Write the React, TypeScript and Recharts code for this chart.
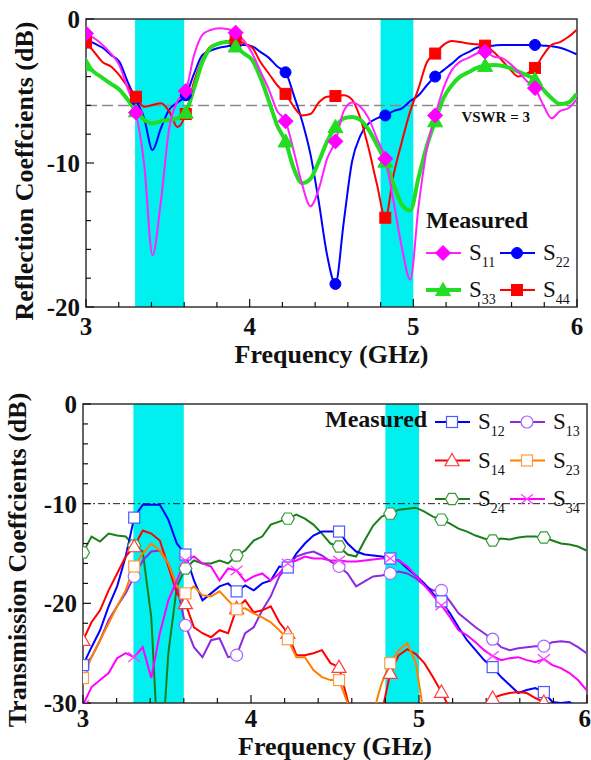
import React from 'react';
import {
  ComposedChart,
  Line,
  XAxis,
  YAxis,
  ReferenceArea,
  ReferenceLine,
  Label,
  Legend,
} from 'recharts';

const SERIF = "'Liberation Serif', 'Times New Roman', Times, serif";
const INK = '#111';

// sweep grid: 60 samples 0.0508 GHz apart, a symbol on every 6th sample
const FREQ = Array.from({ length: 60 }, (_, i) => Math.round((3 + i * 0.0508) * 10000) / 10000);
const MARK_EVERY = 6;

const PASS_BANDS: [number, number][] = [
  [3.3, 3.6],
  [4.8, 5.0],
];

const X_TICKS = [3, 4, 5, 6];
const X_MINOR = [3.2, 3.4, 3.6, 3.8, 4.2, 4.4, 4.6, 4.8, 5.2, 5.4, 5.6, 5.8];

const REFL_TICKS = [-20, -10, 0];
const REFL_MINOR = [-18, -16, -14, -12, -8, -6, -4, -2];
const TRANS_TICKS = [-30, -20, -10, 0];
const TRANS_MINOR = [-28, -26, -24, -22, -18, -16, -14, -12, -8, -6, -4, -2];

// reflection coefficients (dB)
const S11 = [
  -1.0, -1.34, -1.8, -2.4, -3.2, -4.8, -6.5, -10.1, -16.4, -12.7,
  -7.6, -5.7, -5.0, -2.5, -1.1, -0.76, -0.65, -0.7, -0.95, -1.5,
  -2.4, -3.66, -4.9, -6.4, -7.1, -9.2, -11.5, -13.0, -11.8, -9.7,
  -8.5, -6.4, -5.8, -6.1, -6.9, -8.3, -9.7, -12.7, -15.9, -18.1,
  -13.0, -9.0, -6.7, -4.8, -3.55, -2.96, -2.7, -2.4, -2.27, -2.6,
  -2.7, -3.1, -3.66, -4.3, -4.8, -5.97, -6.9, -6.4, -6.2, -5.6,
];
const S22 = [
  -1.4, -1.7, -2.0, -2.5, -2.96, -4.35, -5.6, -6.9, -9.1, -7.6,
  -6.3, -5.8, -5.3, -3.8, -2.5, -2.2, -2.0, -1.9, -1.8, -1.8,
  -1.9, -2.3, -2.7, -3.3, -3.7, -5.3, -7.1, -9.4, -12.7, -16.4,
  -18.4, -14.1, -9.9, -8.1, -7.25, -6.9, -6.7, -6.4, -6.2, -5.7,
  -5.3, -4.6, -4.0, -3.55, -3.1, -2.6, -2.3, -2.0, -1.9, -1.85,
  -1.8, -1.8, -1.8, -1.8, -1.8, -1.85, -1.9, -2.0, -2.2, -2.45,
];
const S33 = [
  -3.2, -3.7, -4.1, -4.5, -4.9, -5.6, -6.4, -7.0, -7.25, -7.1,
  -7.0, -6.9, -6.5, -4.8, -3.0, -2.0, -1.7, -1.6, -1.9, -2.4,
  -2.85, -4.1, -5.7, -7.4, -8.5, -10.4, -11.4, -11.1, -9.9, -8.5,
  -7.5, -6.9, -6.8, -7.0, -7.7, -8.75, -9.9, -11.5, -12.9, -13.3,
  -11.0, -8.8, -7.1, -5.5, -4.6, -4.0, -3.7, -3.4, -3.25, -3.2,
  -3.25, -3.4, -3.66, -3.9, -4.2, -4.9, -5.5, -5.9, -5.8, -5.2,
];
const S44 = [
  -1.6, -2.3, -3.0, -3.3, -3.9, -4.7, -5.4, -6.1, -5.97, -5.85,
  -6.4, -7.5, -6.6, -4.35, -2.8, -1.9, -1.7, -1.53, -1.4, -1.7,
  -2.0, -3.0, -3.8, -4.6, -5.2, -6.1, -6.7, -6.6, -5.8, -5.4,
  -5.35, -5.3, -5.6, -6.9, -9.0, -11.5, -13.8, -10.8, -8.5, -6.4,
  -4.8, -3.0, -2.4, -1.8, -1.53, -1.6, -1.7, -1.76, -1.85, -2.27,
  -2.85, -3.5, -4.0, -3.8, -3.4, -2.5, -1.8, -1.6, -1.25, -0.76,
];

// transmission coefficients (dB); values below -30 run off the frame
const S12 = [
  -26.2, -24.4, -22.7, -20.3, -18.3, -15.3, -11.4, -10.1, -10.1, -10.1,
  -11.6, -14.0, -15.1, -17.7, -19.7, -19.0, -18.3, -18.0, -18.8, -18.2,
  -18.7, -18.0, -17.7, -16.3, -16.4, -15.0, -14.0, -13.2, -12.8, -12.8,
  -12.8, -14.0, -14.8, -15.1, -15.2, -15.3, -15.5, -15.7, -16.5, -17.2,
  -18.0, -19.0, -19.8, -21.0, -22.4, -23.7, -24.7, -25.7, -26.4, -27.4,
  -28.2, -29.0, -28.7, -28.5, -28.9, -29.9, -30.0, -29.9, -30.5, -31.0,
];
const S13 = [
  -26.4, -25.4, -23.7, -21.7, -20.3, -19.0, -17.3, -15.7, -14.8, -14.7,
  -16.0, -18.3, -22.2, -24.4, -25.4, -23.7, -23.5, -25.4, -25.2, -23.0,
  -22.4, -20.7, -19.3, -17.3, -16.2, -15.3, -15.0, -14.8, -15.2, -15.8,
  -16.3, -17.0, -18.3, -17.8, -17.3, -17.2, -17.0, -16.8, -17.0, -17.5,
  -18.2, -18.7, -18.7, -19.8, -21.0, -21.7, -22.4, -23.0, -23.6, -24.4,
  -24.7, -24.5, -24.4, -24.3, -24.3, -23.9, -23.8, -23.9, -24.4, -25.0,
];
const S14 = [
  -23.7, -21.9, -20.7, -18.7, -17.0, -15.3, -14.3, -12.7, -13.0, -13.7,
  -16.3, -19.0, -20.0, -22.4, -23.0, -23.4, -22.7, -23.0, -20.5, -19.7,
  -20.9, -20.7, -20.3, -21.9, -23.0, -25.2, -25.2, -25.0, -24.7, -26.0,
  -26.4, -29.7, -33.0, -35.0, -35.0, -31.0, -27.0, -25.2, -24.6, -25.1,
  -26.0, -27.4, -28.9, -30.6, -33.0, -33.0, -32.0, -30.2, -29.5, -29.2,
  -29.0, -28.9, -29.0, -29.5, -29.9, -31.0, -33.0, -33.0, -33.0, -33.0,
];
const S23 = [
  -27.5, -25.4, -23.7, -22.0, -20.3, -18.7, -16.3, -15.0, -14.0, -14.7,
  -16.0, -18.3, -19.0, -18.3, -19.2, -19.3, -18.8, -19.7, -20.6, -20.5,
  -21.0, -21.4, -21.9, -22.7, -23.6, -25.4, -25.4, -26.7, -27.4, -27.7,
  -27.7, -30.0, -34.0, -36.0, -31.0, -28.0, -26.0, -24.7, -24.0, -26.0,
  -31.5, -35.0, -36.0, -36.0, -36.0, -36.0, -36.0, -36.0, -36.0, -36.0,
  -36.0, -36.0, -36.0, -36.0, -36.0, -36.0, -36.0, -36.0, -36.0, -36.0,
];
const S24 = [
  -14.9, -13.3, -13.8, -13.0, -13.2, -13.3, -14.2, -14.8, -21.4, -38.0,
  -25.0, -18.3, -16.5, -15.7, -16.0, -16.0, -15.7, -16.0, -15.2, -14.7,
  -13.7, -13.3, -12.1, -11.8, -11.5, -11.1, -11.5, -12.1, -13.0, -14.0,
  -14.3, -15.1, -15.3, -13.7, -12.2, -11.3, -11.0, -10.6, -10.5, -10.4,
  -10.8, -11.3, -11.6, -12.0, -12.5, -12.8, -13.2, -13.5, -13.7, -13.5,
  -13.6, -13.4, -13.3, -13.3, -13.4, -13.7, -14.0, -14.1, -14.3, -14.7,
];
const S34 = [
  -30.2, -28.4, -27.7, -27.0, -25.5, -25.0, -25.4, -24.4, -27.5, -23.0,
  -19.7, -17.7, -15.7, -15.3, -16.0, -16.3, -17.7, -16.5, -16.7, -17.8,
  -17.3, -17.0, -17.7, -17.0, -16.0, -15.7, -15.3, -15.5, -15.5, -15.7,
  -15.7, -15.8, -15.8, -15.7, -15.6, -15.5, -15.5, -15.7, -16.3, -17.2,
  -18.2, -19.2, -20.2, -21.4, -22.7, -23.2, -23.9, -24.7, -25.3, -25.7,
  -25.5, -25.4, -25.7, -25.9, -25.6, -26.2, -26.5, -27.0, -27.7, -28.7,
];

type MarkerKind = 'diamond' | 'circle' | 'triangle' | 'square' | 'hexagon' | 'cross';

type Series = {
  key: string;
  sub: string;
  values: number[];
  color: string;
  markerColor: string;
  marker: MarkerKind;
  size: number;
  width: number;
  filled: boolean;
};

const REFLECTION: Series[] = [
  { key: 's11', sub: '11', values: S11, color: '#ff22ff', markerColor: '#ff00ff', marker: 'diamond', size: 7.5, width: 2, filled: true },
  { key: 's22', sub: '22', values: S22, color: '#0000ff', markerColor: '#0000ff', marker: 'circle', size: 5.5, width: 2, filled: true },
  { key: 's33', sub: '33', values: S33, color: '#22dd22', markerColor: '#22dd22', marker: 'triangle', size: 7.5, width: 4, filled: true },
  { key: 's44', sub: '44', values: S44, color: '#ff0000', markerColor: '#ff0000', marker: 'square', size: 5.5, width: 2, filled: true },
];
const REFLECTION_ORDER = ['s22', 's44', 's33', 's11'];

const TRANSMISSION: Series[] = [
  { key: 's12', sub: '12', values: S12, color: '#0000ff', markerColor: '#4a5cff', marker: 'square', size: 5.5, width: 2, filled: false },
  { key: 's13', sub: '13', values: S13, color: '#8a2be2', markerColor: '#a966ff', marker: 'circle', size: 6, width: 2, filled: false },
  { key: 's14', sub: '14', values: S14, color: '#ff0000', markerColor: '#ff3a3a', marker: 'triangle', size: 7, width: 2, filled: false },
  { key: 's23', sub: '23', values: S23, color: '#ff8000', markerColor: '#ff9a40', marker: 'square', size: 5.5, width: 2, filled: false },
  { key: 's24', sub: '24', values: S24, color: '#1a7f1a', markerColor: '#3a9a3a', marker: 'hexagon', size: 6.5, width: 2, filled: false },
  { key: 's34', sub: '34', values: S34, color: '#ff00ff', markerColor: '#ff40ff', marker: 'cross', size: 6, width: 2, filled: false },
];
const TRANSMISSION_ORDER = ['s24', 's13', 's12', 's14', 's23', 's34'];

const reflRows = FREQ.map((f, i) => {
  const row: Record<string, number> = { f };
  REFLECTION.forEach((s) => (row[s.key] = s.values[i]));
  return row;
});
const transRows = FREQ.map((f, i) => {
  const row: Record<string, number> = { f };
  TRANSMISSION.forEach((s) => (row[s.key] = s.values[i]));
  return row;
});

function Marker({ kind, cx, cy, color, filled, size }: {
  kind: MarkerKind; cx: number; cy: number; color: string; filled: boolean; size: number;
}) {
  const fill = filled ? color : '#fff';
  const sw = filled ? 1 : 1.2;
  const s = size;
  switch (kind) {
    case 'diamond':
      return <polygon points={`${cx},${cy - s} ${cx + s},${cy} ${cx},${cy + s} ${cx - s},${cy}`} fill={fill} stroke={color} strokeWidth={sw} />;
    case 'circle':
      return <circle cx={cx} cy={cy} r={s} fill={fill} stroke={color} strokeWidth={sw} />;
    case 'triangle':
      return <polygon points={`${cx},${cy - s} ${cx + s},${cy + s * 0.75} ${cx - s},${cy + s * 0.75}`} fill={fill} stroke={color} strokeWidth={sw} />;
    case 'square':
      return <rect x={cx - s} y={cy - s} width={2 * s} height={2 * s} fill={fill} stroke={color} strokeWidth={sw} />;
    case 'hexagon': {
      const pts = [0, 1, 2, 3, 4, 5]
        .map((k) => {
          const a = (k * Math.PI) / 3;
          return `${cx + s * Math.cos(a)},${cy + s * Math.sin(a)}`;
        })
        .join(' ');
      return <polygon points={pts} fill={fill} stroke={color} strokeWidth={sw} />;
    }
    default:
      return (
        <g stroke={color} strokeWidth={1.3}>
          <line x1={cx - s} y1={cy - s * 0.8} x2={cx + s} y2={cy + s * 0.8} />
          <line x1={cx - s} y1={cy + s * 0.8} x2={cx + s} y2={cy - s * 0.8} />
        </g>
      );
  }
}

const symbolDot = (s: Series) => (props: any) => {
  const { cx, cy, index } = props;
  const key = `${s.key}-dot-${index}`;
  if (index % MARK_EVERY !== 0 || cx == null || cy == null) return <g key={key} />;
  return (
    <g key={key}>
      <Marker kind={s.marker} cx={cx} cy={cy} color={s.markerColor} filled={s.filled} size={s.size} />
    </g>
  );
};

// inward tick marks along the bottom and left edges of the frame
function frameTicks(
  id: string,
  xDomain: [number, number],
  yDomain: [number, number],
  yMajor: number[],
  yMinor: number[],
  pxPerX: number,
  pxPerY: number,
) {
  const [x0] = xDomain;
  const [y0] = yDomain;
  const out: React.ReactElement[] = [];
  const tick = { stroke: INK, strokeWidth: 1.2 };
  X_TICKS.forEach((x) =>
    out.push(<ReferenceLine key={`${id}-xM-${x}`} segment={[{ x, y: y0 }, { x, y: y0 + 8 / pxPerY }]} {...tick} />),
  );
  X_MINOR.forEach((x) =>
    out.push(<ReferenceLine key={`${id}-xm-${x}`} segment={[{ x, y: y0 }, { x, y: y0 + 5 / pxPerY }]} {...tick} />),
  );
  yMajor.forEach((y) =>
    out.push(<ReferenceLine key={`${id}-yM-${y}`} segment={[{ x: x0, y }, { x: x0 + 8 / pxPerX, y }]} {...tick} />),
  );
  yMinor.forEach((y) =>
    out.push(<ReferenceLine key={`${id}-ym-${y}`} segment={[{ x: x0, y }, { x: x0 + 5 / pxPerX, y }]} {...tick} />),
  );
  return out;
}

const tickFont = { fontFamily: SERIF, fontSize: 25, fontWeight: 'bold', fill: INK };

function LegendBlock({ series, titleX, titleY, x0, colStep, rowY, rowStep }: {
  series: Series[]; titleX: number; titleY: number; x0: number; colStep: number; rowY: number; rowStep: number;
}) {
  return (
    <svg width={591} height={380} style={{ position: 'absolute', left: 0, top: 0, overflow: 'visible' }}>
      <text x={titleX} y={titleY} fontFamily={SERIF} fontSize={24} fontWeight="bold" fill={INK}>
        Measured
      </text>
      {series.map((s, k) => {
        const x = x0 + (k % 2) * colStep;
        const y = rowY + Math.floor(k / 2) * rowStep;
        return (
          <g key={s.key}>
            <line x1={x} y1={y} x2={x + 35} y2={y} stroke={s.color} strokeWidth={s.width} />
            <Marker kind={s.marker} cx={x + 17} cy={y} color={s.markerColor} filled={s.filled} size={s.size} />
            <text x={x + 43} y={y + 7} fontFamily={SERIF} fontSize={23} fill={INK}>
              S
              <tspan fontSize={14} dy={7}>
                {s.sub}
              </tspan>
            </text>
          </g>
        );
      })}
    </svg>
  );
}

function ReflectionChart() {
  const yDomain: [number, number] = [-20, 0];
  return (
    <ComposedChart width={591} height={380} data={reflRows} margin={{ top: 19, right: 14, bottom: 13, left: 0 }}>
      {PASS_BANDS.map(([a, b]) => (
        <ReferenceArea key={`band-${a}`} x1={a} x2={b} y1={-20} y2={0} fill="#00f0f0" fillOpacity={1} stroke="none" />
      ))}
      <ReferenceLine y={-6} stroke="#8a8a8a" strokeWidth={1.5} strokeDasharray="11 5">
        <Label
          content={(p: any) => {
            const vb = p.viewBox ?? { x: 86, y: 105, width: 491 };
            return (
              <text x={vb.x + vb.width - 47} y={vb.y + 17} textAnchor="end" fontFamily={SERIF} fontSize={15} fontWeight="bold" fill={INK}>
                VSWR = 3
              </text>
            );
          }}
        />
      </ReferenceLine>
      <XAxis
        dataKey="f"
        type="number"
        domain={[3, 6]}
        ticks={X_TICKS}
        allowDataOverflow
        height={60}
        tickLine={false}
        axisLine={false}
        tickSize={0}
        tickMargin={10}
        tick={tickFont}
      >
        <Label value="Frequency (GHz)" position="insideBottom" offset={4} fontFamily={SERIF} fontSize={26} fontWeight="bold" fill={INK} />
      </XAxis>
      <YAxis
        type="number"
        domain={yDomain}
        ticks={REFL_TICKS}
        allowDataOverflow
        width={86}
        tickLine={false}
        axisLine={false}
        tickSize={0}
        tickMargin={6}
        tick={tickFont}
      >
        <Label
          content={() => (
            <text x={33} y={171} transform="rotate(-90 33 171)" textAnchor="middle" fontFamily={SERIF} fontSize={26} fontWeight="bold" fill={INK}>
              Reflection Coeffcients (dB)
            </text>
          )}
        />
      </YAxis>
      {REFLECTION_ORDER.map((k) => {
        const s = REFLECTION.find((r) => r.key === k)!;
        return (
          <Line
            key={s.key}
            dataKey={s.key}
            type="monotone"
            stroke={s.color}
            strokeWidth={s.width}
            dot={symbolDot(s)}
            activeDot={false}
            isAnimationActive={false}
          />
        );
      })}
      {frameTicks('r', [3, 6], yDomain, REFL_TICKS, REFL_MINOR, 491 / 3, 288 / 20)}
      <ReferenceArea x1={3} x2={6} y1={-20} y2={0} fill="none" stroke="#333" strokeWidth={1.5} />
      <Legend
        layout="horizontal"
        verticalAlign="middle"
        align="center"
        wrapperStyle={{ left: 0, top: 0, width: 591, height: 380, pointerEvents: 'none' }}
        content={() => (
          <LegendBlock series={REFLECTION} titleX={426} titleY={228} x0={426} colStep={74} rowY={253} rowStep={37} />
        )}
      />
    </ComposedChart>
  );
}

function TransmissionChart() {
  const yDomain: [number, number] = [-30, 0];
  return (
    <ComposedChart width={591} height={380} data={transRows} margin={{ top: 24, right: 4, bottom: 2, left: 0 }}>
      {PASS_BANDS.map(([a, b]) => (
        <ReferenceArea key={`band-${a}`} x1={a} x2={b} y1={-30} y2={0} fill="#00f0f0" fillOpacity={1} stroke="none" />
      ))}
      <ReferenceLine y={-10} stroke="#222" strokeWidth={1} strokeDasharray="7 3 2 3" />
      <XAxis
        dataKey="f"
        type="number"
        domain={[3, 6]}
        ticks={X_TICKS}
        allowDataOverflow
        height={55}
        tickLine={false}
        axisLine={false}
        tickSize={0}
        tickMargin={6}
        tick={tickFont}
      >
        <Label value="Frequency (GHz)" position="insideBottom" offset={3} fontFamily={SERIF} fontSize={26} fontWeight="bold" fill={INK} />
      </XAxis>
      <YAxis
        type="number"
        domain={yDomain}
        ticks={TRANS_TICKS}
        allowDataOverflow
        width={83}
        tickLine={false}
        axisLine={false}
        tickSize={0}
        tickMargin={6}
        tick={tickFont}
      >
        <Label
          content={() => (
            <text x={26} y={180} transform="rotate(-90 26 180)" textAnchor="middle" fontFamily={SERIF} fontSize={26} fontWeight="bold" fill={INK}>
              Transmission Coeffcients (dB)
            </text>
          )}
        />
      </YAxis>
      {TRANSMISSION_ORDER.map((k) => {
        const s = TRANSMISSION.find((r) => r.key === k)!;
        return (
          <Line
            key={s.key}
            dataKey={s.key}
            type="linear"
            stroke={s.color}
            strokeWidth={s.width}
            dot={symbolDot(s)}
            activeDot={false}
            isAnimationActive={false}
          />
        );
      })}
      {frameTicks('t', [3, 6], yDomain, TRANS_TICKS, TRANS_MINOR, 504 / 3, 299 / 30)}
      <ReferenceArea x1={3} x2={6} y1={-30} y2={0} fill="none" stroke="#333" strokeWidth={1.5} />
      <Legend
        layout="horizontal"
        verticalAlign="middle"
        align="center"
        wrapperStyle={{ left: 0, top: 0, width: 591, height: 380, pointerEvents: 'none' }}
        content={() => (
          <LegendBlock series={TRANSMISSION} titleX={325} titleY={47} x0={435} colStep={75} rowY={42} rowStep={38.5} />
        )}
      />
    </ComposedChart>
  );
}

export default function App() {
  return (
    <div style={{ position: 'absolute', left: 0, top: 0, width: 591, height: 760, background: '#fff' }}>
      <div style={{ position: 'absolute', left: 0, top: 0 }}>
        <ReflectionChart />
      </div>
      <div style={{ position: 'absolute', left: 0, top: 380 }}>
        <TransmissionChart />
      </div>
    </div>
  );
}
